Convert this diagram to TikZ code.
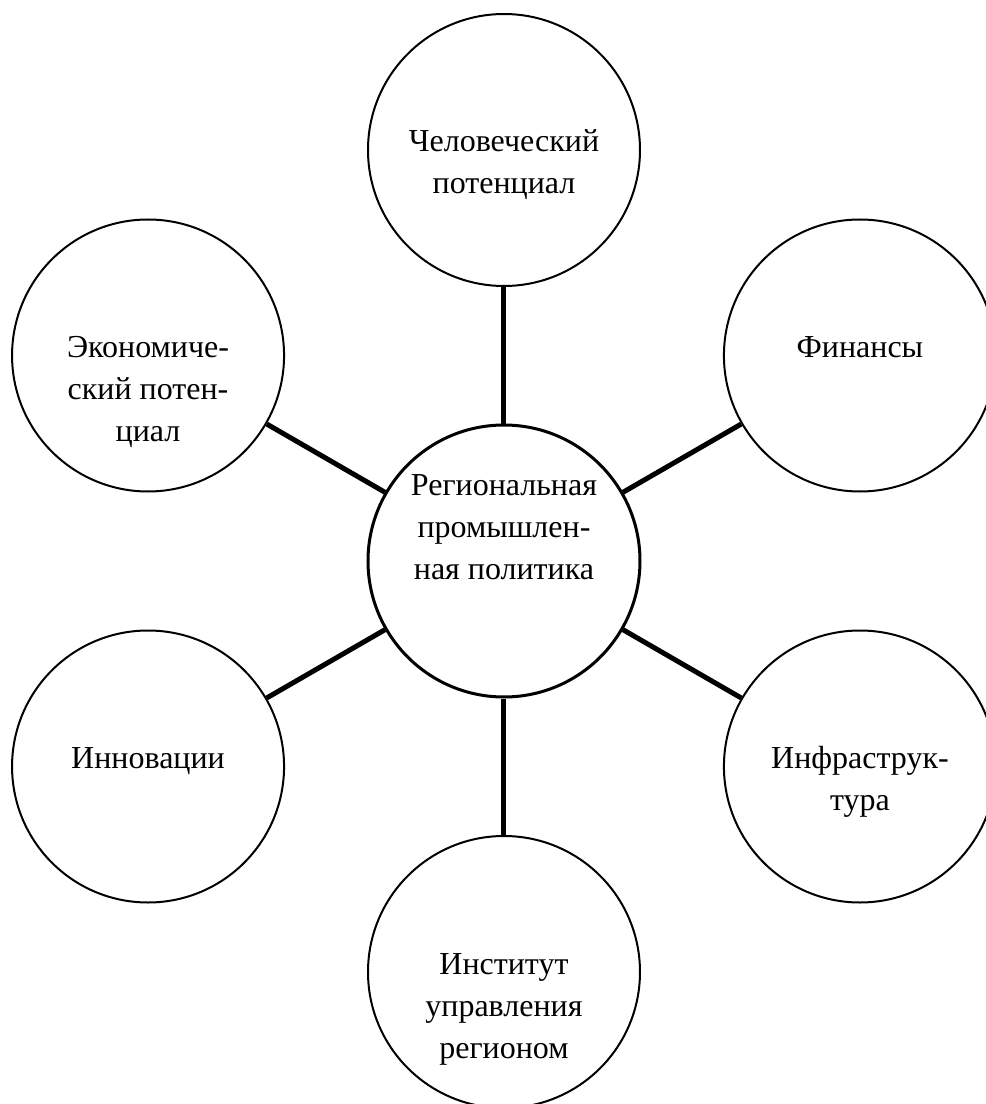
\documentclass[tikz,border=0pt]{standalone}
\usepackage{fontspec}
\setmainfont{Liberation Serif}
\usepackage{tikz}
\tikzset{%
bubble/.style={circle,draw,line width=1pt,minimum size=136pt,inner sep=0pt},
core/.style={bubble,line width=1.5pt},
caption/.style={align=center,anchor=base,inner sep=0pt,font=\rmfamily\fontsize{16pt}{21pt}\selectfont},
link/.style={line width=2.5pt}
}

\begin{document}
\begin{tikzpicture}[x=0.5pt,y=0.5pt]
\useasboundingbox (-504,-543) rectangle (482,561);
\node[core] (policy) at (0,0) {};
\node[caption] (policy-t) at (0,-18) {Региональная\\промышлен-\\ная политика};
%%
\foreach \name/\ang/\n/\txt in {hum/90/2/{Человеческий\\потенциал},
                                fin/30/1/{Финансы},
                                econ/150/3/{Экономиче-\\ский потен-\\циал},
                                innov/210/1/{Инновации},
                                infra/330/2/{Инфраструк-\\тура},
                                inst/270/3/{Институт\\управления\\регионом}%
                               }
   {
     \node[bubble] (\name) at (\ang:411) {};
     \node[caption] (\name-t) at ([yshift={-1pt-21pt*(\n-1)}]\name.center) {\txt};
   }
%%
\foreach \name in {hum,fin,econ,innov,infra,inst}
     \draw[link] (policy) -- (\name);
\end{tikzpicture}
\end{document}
